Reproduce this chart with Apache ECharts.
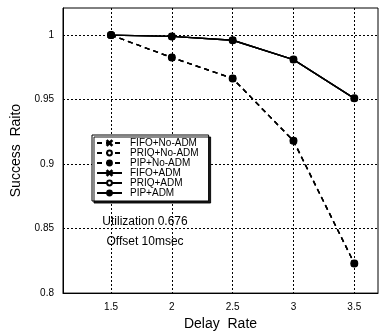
<!DOCTYPE html>
<html><head><meta charset="utf-8">
<script src="https://cdn.jsdelivr.net/npm/echarts@6/dist/echarts.min.js"></script>
<style>html,body{margin:0;padding:0;background:#fff}#c{width:379px;height:336px}</style>
</head><body><div id="c"></div>
<script>
var delayRates = [1.5, 2, 2.5, 3, 3.5];
var xTicks = [1.5, 2, 2.5, 3, 3.5];
var yTicks = [0.8, 0.85, 0.9, 0.95, 1];
var fifoNoAdm = [1.0, 0.9826, 0.9664, 0.918, 0.823];
var priqNoAdm = [1.0, 0.9826, 0.9664, 0.918, 0.823];
var pipNoAdm  = [1.0, 0.9826, 0.9664, 0.918, 0.823];
var fifoAdm   = [1.0, 0.999, 0.996, 0.981, 0.951];
var priqAdm   = [1.0, 0.999, 0.996, 0.981, 0.951];
var pipAdm    = [1.0, 0.999, 0.996, 0.981, 0.951];
var seriesNames = ['FIFO+No-ADM','PRIQ+No-ADM','PIP+No-ADM','FIFO+ADM','PRIQ+ADM','PIP+ADM'];
var seriesData = [fifoNoAdm, priqNoAdm, pipNoAdm, fifoAdm, priqAdm, pipAdm];
var cross = 'path://M1,0L5,4L9,0L10,1L6,5L10,9L9,10L5,6L1,10L0,9L4,5L0,1Z';
var symbols = [cross,'emptyCircle','circle',cross,'emptyCircle','circle'];
var font = '"Liberation Sans", Arial, sans-serif';
var series = seriesNames.map(function(n,i){
  return {
    name:n, type:'line',
    data: delayRates.map(function(x,j){return [x, seriesData[i][j]];}),
    symbol: symbols[i], symbolSize: 6,
    lineStyle:{color:'#000', width:1.4, type: i<3 ? [5,4] : 'solid'},
    itemStyle:{color:'#000', borderColor:'#000', borderWidth:1},
    z: 3
  };
});
var chart = echarts.init(document.getElementById('c'));
chart.setOption({
  animation:false,
  textStyle:{fontFamily:font},
  grid:{left:63, right:1, top:8, bottom:32, show:true, borderColor:'#000', borderWidth:1},
  xAxis:{
    type:'value', min:1.105, max:3.695,
    name:'Delay  Rate', nameLocation:'middle', nameGap:20,
    nameTextStyle:{fontFamily:font, fontSize:14, color:'#000'},
    axisLine:{lineStyle:{color:'#000'}},
    axisTick:{show:false, customValues:xTicks},
    axisLabel:{customValues:xTicks, color:'#000', fontSize:10, margin:9, fontFamily:font},
    splitLine:{show:true, lineStyle:{color:'#000', type:[2,2], width:1}}
  },
  yAxis:{
    type:'value', min:0.8, max:1.021,
    name:'Success  Raito', nameLocation:'middle', nameGap:38, nameRotate:90,
    nameTextStyle:{fontFamily:font, fontSize:14, color:'#000'},
    axisLine:{lineStyle:{color:'#000'}},
    axisTick:{show:false, customValues:yTicks},
    axisLabel:{customValues:yTicks, color:'#000', fontSize:10, margin:9, fontFamily:font},
    splitLine:{show:true, lineStyle:{color:'#000', type:[2,2], width:1}}
  },
  legend:{
    orient:'vertical', left:92, top:135, data:seriesNames,
    itemWidth:25, itemHeight:6, itemGap:0,
    padding:[3,10,3,4],
    backgroundColor:'#fff', borderColor:'#000', borderWidth:1,
    shadowColor:'rgba(0,0,0,0.9)', shadowOffsetX:2, shadowOffsetY:2, shadowBlur:0,
    textStyle:{fontFamily:font, fontSize:10, lineHeight:10, color:'#000', padding:[0,0,0,3]}
  },
  graphic:[
    {type:'text', x:145, y:216, style:{text:'Utilization 0.676', font:'12px "Liberation Sans"', fill:'#000', align:'center', textAlign:'center'}, z:10},
    {type:'text', x:145, y:236, style:{text:'Offset 10msec', font:'12px "Liberation Sans"', fill:'#000', align:'center', textAlign:'center'}, z:10}
  ],
  series:series
});
</script></body></html>
